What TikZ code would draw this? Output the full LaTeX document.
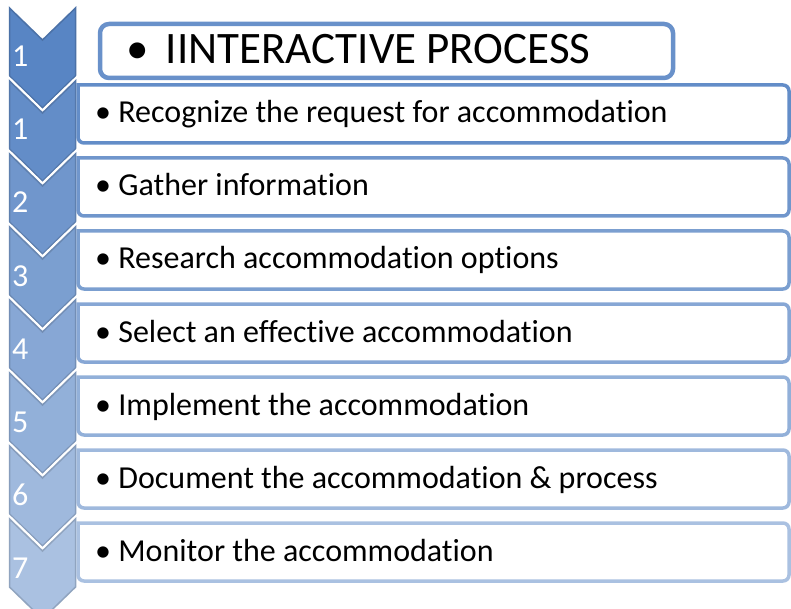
\documentclass[tikz,border=0pt]{standalone}
\usepackage{fontspec}
\setmainfont{Carlito}[Ligatures = NoCommon]
\usepackage{tikz}

\definecolor{chevtop}{RGB}{88,133,196}
\definecolor{chevbot}{RGB}{170,193,225}
\colorlet{chevA}{chevtop}
\colorlet{chevB}{chevtop!86!chevbot}
\colorlet{chevC}{chevtop!71!chevbot}
\colorlet{chevD}{chevtop!57!chevbot}
\colorlet{chevE}{chevtop!43!chevbot}
\colorlet{chevF}{chevtop!29!chevbot}
\colorlet{chevG}{chevtop!14!chevbot}
\colorlet{chevH}{chevbot}

\begin{document}
\begin{tikzpicture}[x = 1pt, y = -1pt,
	chevron/.style = {preaction = {draw = white, line width = 6pt}, line width = 1.5pt, line join = miter},
	listbox/.style = {fill = white, line width = 3.5pt},
	headbox/.style = {fill = white, line width = 4.5pt, rounded corners = 9pt},
	num/.style = {white, anchor = base west, inner sep = 0pt, font = \fontsize{32}{32}\selectfont},
	item/.style = {black, anchor = base west, inner sep = 0pt, font = \fontsize{32}{32}\selectfont}]

	\useasboundingbox (0, 0) rectangle (791, 609);

	\draw[chevron, fill = chevA, draw = chevA!85!black] (9.5, 8) -- (42.5, 40) -- (75.5, 8) -- (75.5, 76) -- (42.5, 108) -- (9.5, 76) -- cycle;
	\draw[chevron, fill = chevB, draw = chevB!85!black] (9.5, 81) -- (42.5, 113) -- (75.5, 81) -- (75.5, 149) -- (42.5, 181) -- (9.5, 149) -- cycle;
	\draw[chevron, fill = chevC, draw = chevC!85!black] (9.5, 154) -- (42.5, 186) -- (75.5, 154) -- (75.5, 222) -- (42.5, 254) -- (9.5, 222) -- cycle;
	\draw[chevron, fill = chevD, draw = chevD!85!black] (9.5, 227) -- (42.5, 259) -- (75.5, 227) -- (75.5, 295) -- (42.5, 327) -- (9.5, 295) -- cycle;
	\draw[chevron, fill = chevE, draw = chevE!85!black] (9.5, 300) -- (42.5, 332) -- (75.5, 300) -- (75.5, 368) -- (42.5, 400) -- (9.5, 368) -- cycle;
	\draw[chevron, fill = chevF, draw = chevF!85!black] (9.5, 373) -- (42.5, 405) -- (75.5, 373) -- (75.5, 441) -- (42.5, 473) -- (9.5, 441) -- cycle;
	\draw[chevron, fill = chevG, draw = chevG!85!black] (9.5, 446) -- (42.5, 478) -- (75.5, 446) -- (75.5, 514) -- (42.5, 546) -- (9.5, 514) -- cycle;
	\draw[chevron, fill = chevH, draw = chevH!85!black] (9.5, 519) -- (42.5, 551) -- (75.5, 519) -- (75.5, 587) -- (42.5, 619) -- (9.5, 587) -- cycle;
	
	\node[num] (num0) at (12, 67) {1};
	\node[num] (num1) at (12, 140) {1};
	\node[num] (num2) at (12, 213) {2};
	\node[num] (num3) at (12, 286) {3};
	\node[num] (num4) at (12, 359) {4};
	\node[num] (num5) at (12, 432) {5};
	\node[num] (num6) at (12, 505) {6};
	\node[num] (num7) at (12, 578) {7};
	
	\draw[listbox, draw = chevB] (78, 85) [rounded corners = 6pt] -- (789, 85) -- (789, 143) -- (78, 143) [sharp corners] -- cycle;
	\draw[listbox, draw = chevC] (78, 158) [rounded corners = 6pt] -- (789, 158) -- (789, 216) -- (78, 216) [sharp corners] -- cycle;
	\draw[listbox, draw = chevD] (78, 231) [rounded corners = 6pt] -- (789, 231) -- (789, 289) -- (78, 289) [sharp corners] -- cycle;
	\draw[listbox, draw = chevE] (78, 304) [rounded corners = 6pt] -- (789, 304) -- (789, 362) -- (78, 362) [sharp corners] -- cycle;
	\draw[listbox, draw = chevF] (78, 377) [rounded corners = 6pt] -- (789, 377) -- (789, 435) -- (78, 435) [sharp corners] -- cycle;
	\draw[listbox, draw = chevG] (78, 450) [rounded corners = 6pt] -- (789, 450) -- (789, 508) -- (78, 508) [sharp corners] -- cycle;
	\draw[listbox, draw = chevH] (78, 523) [rounded corners = 6pt] -- (789, 523) -- (789, 581) -- (78, 581) [sharp corners] -- cycle;
	
	\draw[headbox, draw = chevA!90!white] (100, 24) rectangle (673, 78);
	\node[black, anchor = base west, inner sep = 0pt, font = \fontsize{45}{45}\selectfont] (head) at (126, 64) {• \hspace{7pt}IINTERACTIVE PROCESS};
	
	\node[item] (recog) at (95, 123) {• Recognize the request for accommodation};
	\node[item] (gather) at (95, 196) {• Gather information};
	\node[item] (research) at (95, 269) {• Research accommodation options};
	\node[item] (select) at (95, 342) {• Select an effective accommodation};
	\node[item] (implement) at (95, 415) {• Implement the accommodation};
	\node[item] (document) at (95, 488) {• Document the accommodation \& process};
	\node[item] (monitor) at (95, 561) {• Monitor the accommodation};
	
\end{tikzpicture}
\end{document}
